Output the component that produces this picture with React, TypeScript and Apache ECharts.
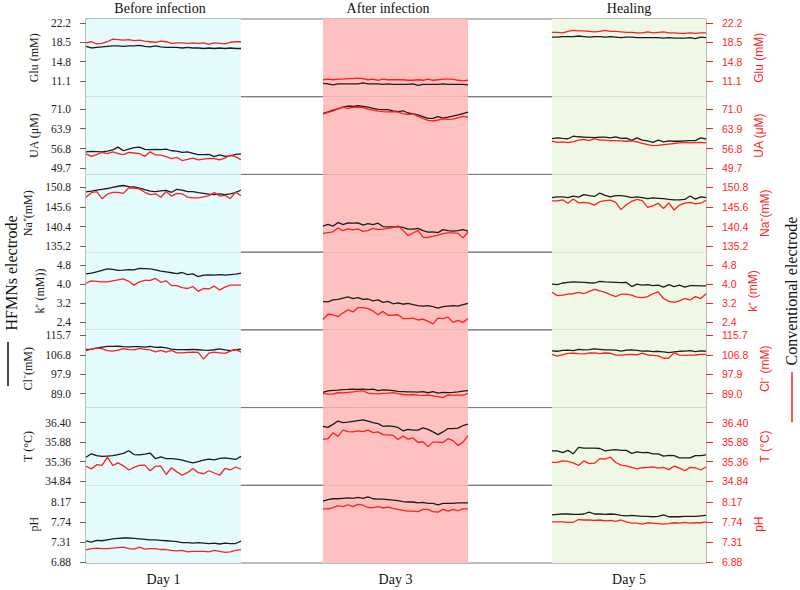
import React, { useEffect, useRef } from "react";
import * as echarts from "echarts";

// ---------- labels ----------
const PHASES = ["Before infection", "After infection", "Healing"];
const DAYS = ["Day 1", "Day 3", "Day 5"];
const NAMES_LEFT = ["Glu (mM)", "UA (μM)", "Na⁺(mM)", "k⁺ (mM))", "Cl⁻(mM)", "T (°C)", "pH"];
const NAMES_RIGHT = ["Glu (mM)", "UA (μM)", "Na⁺(mM)", "k⁺ (mM)", "Cl⁻ (mM)", "T (°C)", "pH"];

// ---------- tick labels ----------
const GLU_TICKS = [11.1, 14.8, 18.5, 22.2];
const UA_TICKS = [49.7, 56.8, 63.9, 71.0];
const NA_TICKS = [135.2, 140.4, 145.6, 150.8];
const K_TICKS = [2.4, 3.2, 4.0, 4.8];
const CL_TICKS = [89.0, 97.9, 106.8, 115.7];
const T_TICKS = [34.84, 35.36, 35.88, 36.40];
const PH_TICKS = [6.88, 7.31, 7.74, 8.17];
const DECIMALS = [1, 1, 1, 1, 1, 2, 2];

// axis extents (min, max) per panel
const EXT_MIN = [8.04, 47.53, 133.61, 2.087, 82.61, 34.734, 6.858];
const EXT_MAX = [22.97, 75.33, 154.24, 5.343, 118.21, 36.797, 8.542];

// ---------- series values: [Day 1, Day 3, Day 5] ----------
const GLU_HFMN = [
  [17.7,17.4,17.5,17.6,17.7,17.8,17.8,17.7,17.8,17.8,17.9,17.7,17.6,17.8,17.6,17.5,17.5,17.5,17.4,17.5,17.4,17.4,17.3,17.4,17.3,17.4,17.3,17.4,17.3,17.3],
  [10.6,10.5,10.3,10.5,10.5,10.5,10.5,10.5,10.7,10.5,10.5,10.5,10.4,10.5,10.4,10.4,10.4,10.4,10.5,10.2,10.4,10.4,10.4,10.4,10.5,10.4,10.4,10.4,10.4,10.3],
  [19.5,19.5,19.6,19.6,19.6,19.7,19.6,19.5,19.6,19.6,19.5,19.6,19.5,19.4,19.5,19.5,19.4,19.4,19.4,19.4,19.4,19.3,19.4,19.3,19.3,19.3,19.4,19.2,19.5,19.4],
];
const GLU_CONV = [
  [18.4,18.6,18.2,18.3,18.6,19.1,19.0,18.9,19.0,18.8,18.9,18.7,18.6,18.5,18.7,18.6,18.3,18.4,18.4,18.3,18.4,18.3,18.4,18.1,18.4,18.3,18.2,18.5,18.6,18.6],
  [11.3,11.4,11.3,11.4,11.4,11.5,11.5,11.6,11.5,11.3,11.4,11.2,11.4,11.3,11.3,11.3,11.3,11.2,11.2,11.3,11.2,11.4,11.2,11.3,11.4,11.4,11.4,11.2,11.1,11.2],
  [20.4,20.4,20.3,20.6,20.8,20.7,20.7,20.6,20.5,20.6,20.8,20.6,20.6,20.5,20.4,20.4,20.3,20.3,20.5,20.3,20.4,20.5,20.3,20.3,20.2,20.2,20.3,20.2,20.3,20.3],
];
const UA_HFMN = [
  [55.6,55.8,55.7,55.6,55.9,56.3,57.3,56.0,56.6,57.1,57.3,56.5,56.4,56.5,56.4,56.6,56.0,55.9,55.4,55.6,55.1,54.6,54.6,54.7,53.9,54.5,54.0,54.2,54.7,54.9],
  [69.4,69.9,70.5,71.0,71.6,72.0,71.9,72.1,71.9,71.6,71.2,70.8,70.7,70.7,70.3,70.0,70.3,69.5,69.2,68.8,68.2,67.6,67.6,68.2,67.7,68.0,68.4,68.8,69.3,69.8],
  [60.3,60.6,60.4,60.3,61.2,61.0,60.9,60.8,60.7,60.9,60.9,60.6,61.0,60.4,60.5,59.7,60.6,59.8,59.5,59.0,59.8,59.2,59.5,59.4,59.4,59.5,59.6,59.6,60.6,60.2],
];
const UA_CONV = [
  [54.9,54.0,54.6,55.4,55.0,55.6,55.0,54.6,55.4,55.2,55.0,54.0,55.6,54.5,54.4,53.9,53.2,53.6,52.5,52.9,53.4,52.7,53.0,53.3,53.2,52.7,53.4,54.4,53.8,52.8],
  [69.1,69.7,70.3,71.0,71.6,71.2,71.5,71.6,71.4,70.9,70.5,70.2,70.0,69.9,70.0,69.8,69.3,68.9,69.2,68.3,67.6,66.9,66.7,67.0,67.4,67.2,67.3,67.8,68.3,68.0],
  [59.4,59.0,59.2,58.9,59.3,59.8,60.1,59.6,60.3,59.8,59.8,59.6,59.6,59.5,59.4,59.5,59.2,58.6,58.2,57.8,57.9,58.2,58.4,58.6,58.8,59.0,58.8,58.9,59.0,58.8],
];
const NA_HFMN = [
  [149.6,149.8,150.1,150.3,150.5,150.8,151.1,151.3,151.0,150.9,150.6,150.2,149.8,149.7,149.9,150.0,149.5,150.3,150.1,149.7,149.7,149.4,149.2,149.0,148.9,149.1,148.9,149.1,149.4,150.1],
  [140.5,141.0,140.5,141.5,140.9,141.4,141.3,141.4,140.8,141.2,140.9,141.3,140.4,140.3,140.3,140.4,140.2,139.7,139.7,139.9,139.3,138.9,139.0,138.8,139.6,139.3,139.2,139.3,139.6,139.2],
  [148.1,148.3,148.3,148.1,148.5,148.2,148.9,148.6,148.4,149.3,148.7,148.3,148.6,148.6,148.4,148.1,148.3,148.1,147.8,148.0,147.9,147.8,147.6,147.5,147.5,147.6,148.5,147.7,148.3,148.1],
];
const NA_CONV = [
  [148.2,149.4,149.7,147.8,149.0,149.5,149.5,149.2,150.7,150.6,150.4,149.5,148.9,149.1,148.2,149.7,148.5,149.2,149.1,148.2,148.0,148.0,148.3,148.6,149.4,148.5,148.7,147.8,149.6,148.6],
  [138.6,138.8,139.0,140.0,139.3,139.8,139.5,139.8,139.1,139.3,139.9,139.6,139.7,139.9,140.1,140.6,139.4,138.0,138.7,139.4,137.6,137.5,137.8,138.1,138.5,138.7,138.7,138.6,137.4,138.9],
  [147.2,147.2,147.5,146.6,147.7,146.7,146.8,146.6,146.1,147.0,147.3,147.4,146.8,144.9,146.2,147.1,147.6,147.3,145.5,145.9,146.6,145.2,146.7,144.8,146.1,146.6,146.8,146.4,146.6,147.4],
];
const K_HFMN = [
  [4.43,4.46,4.52,4.58,4.64,4.62,4.58,4.59,4.61,4.60,4.66,4.65,4.64,4.60,4.55,4.52,4.48,4.44,4.49,4.40,4.43,4.32,4.38,4.39,4.38,4.40,4.38,4.40,4.42,4.46],
  [3.27,3.26,3.34,3.36,3.42,3.47,3.40,3.44,3.36,3.38,3.30,3.34,3.24,3.28,3.18,3.22,3.16,3.20,3.14,3.10,3.08,3.10,3.06,3.00,3.06,3.08,3.10,3.08,3.14,3.20],
  [4.00,3.98,4.05,4.08,4.10,4.09,4.08,4.06,4.05,4.12,4.10,4.09,4.08,4.07,4.08,3.90,4.00,3.96,3.98,3.94,3.96,3.88,3.98,3.90,3.96,3.88,3.94,3.94,3.93,3.93],
];
const K_CONV = [
  [4.04,4.14,4.12,4.10,4.10,4.14,4.18,4.22,4.12,3.96,4.10,4.16,4.16,4.24,4.08,4.14,3.94,3.94,3.86,3.82,3.90,3.70,3.82,3.80,3.92,3.76,3.88,3.96,3.96,3.96],
  [2.52,2.74,2.72,2.64,2.80,2.92,2.84,3.02,3.02,2.98,2.88,2.72,2.86,2.70,2.70,2.72,2.56,2.56,2.58,2.50,2.54,2.44,2.34,2.58,2.56,2.62,2.40,2.48,2.40,2.56],
  [3.66,3.52,3.54,3.58,3.60,3.66,3.60,3.70,3.78,3.72,3.66,3.56,3.48,3.58,3.58,3.54,3.46,3.44,3.48,3.60,3.68,3.40,3.28,3.24,3.30,3.40,3.34,3.48,3.40,3.60],
];
const CL_HFMN = [
  [109.2,109.4,109.8,110.3,110.6,110.6,110.7,110.5,110.4,110.5,110.5,110.3,110.6,110.2,110.3,110.0,109.4,109.2,109.2,109.1,109.3,109.1,108.9,108.8,109.1,109.5,109.0,108.7,109.1,109.4],
  [89.6,90.3,90.5,90.6,90.8,90.9,91.1,90.9,91.0,90.8,91.1,90.4,90.7,90.6,90.4,90.0,89.9,89.8,89.8,89.7,89.9,89.4,89.9,89.2,89.6,89.5,89.6,89.8,90.1,90.4],
  [108.6,108.4,108.8,108.9,108.7,109.3,109.0,109.2,109.5,109.3,109.0,109.0,108.9,108.5,108.9,109.0,108.8,108.5,108.6,108.2,108.4,108.1,107.8,108.1,108.4,108.5,108.7,108.2,108.6,108.5],
];
const CL_CONV = [
  [108.7,109.4,110.0,109.6,108.7,108.5,108.9,109.6,109.2,109.0,109.7,109.3,109.0,108.1,108.8,108.0,108.8,107.7,107.7,107.9,108.0,107.9,104.8,107.6,108.0,107.7,107.4,108.5,109.3,108.0],
  [89.1,88.8,88.8,89.4,89.3,89.6,89.8,90.1,90.3,89.2,89.0,88.9,89.1,89.2,89.5,89.0,88.6,88.4,88.6,88.3,88.2,88.3,88.0,87.6,87.2,88.4,88.3,88.3,88.3,89.0],
  [107.0,106.2,106.9,107.4,107.5,107.3,107.2,107.6,107.7,107.3,107.6,107.5,106.6,106.6,106.9,107.0,106.8,107.5,106.7,106.5,106.3,105.2,105.3,107.8,106.6,106.5,106.6,106.7,107.0,107.0],
];
const T_HFMN = [
  [35.48,35.57,35.52,35.50,35.51,35.52,35.55,35.58,35.65,35.55,35.54,35.56,35.59,35.44,35.49,35.44,35.44,35.43,35.40,35.36,35.33,35.36,35.40,35.43,35.41,35.45,35.46,35.44,35.42,35.50],
  [36.30,36.27,36.35,36.44,36.40,36.41,36.43,36.45,36.47,36.44,36.40,36.37,36.30,36.31,36.30,36.27,36.18,36.22,36.20,36.20,36.26,36.22,36.15,36.08,36.15,36.24,36.24,36.25,36.32,36.36],
  [35.65,35.65,35.60,35.66,35.57,35.74,35.72,35.72,35.72,35.71,35.65,35.67,35.68,35.66,35.66,35.58,35.62,35.60,35.61,35.57,35.57,35.51,35.53,35.52,35.46,35.46,35.46,35.52,35.52,35.54],
];
const T_CONV = [
  [35.24,35.17,35.28,35.26,35.48,35.26,35.33,35.25,35.14,35.21,35.26,35.27,35.12,35.24,35.24,35.02,35.20,35.09,35.00,35.07,35.18,35.07,35.04,35.12,35.06,35.00,35.18,35.14,35.22,35.16],
  [35.95,35.97,36.13,36.03,36.20,36.16,36.15,36.18,36.16,36.20,36.13,36.15,36.08,36.07,36.06,35.95,36.04,35.96,35.99,35.87,35.89,35.76,35.88,35.88,35.87,35.97,35.92,35.79,35.88,36.05],
  [35.34,35.34,35.38,35.37,35.33,35.26,35.38,35.31,35.32,35.44,35.43,35.48,35.34,35.27,35.25,35.21,35.17,35.20,35.21,35.22,35.19,35.21,35.15,35.24,35.19,35.12,35.21,35.20,35.14,35.22],
];
const PH_HFMN = [
  [7.34,7.31,7.35,7.34,7.36,7.38,7.39,7.40,7.40,7.39,7.38,7.37,7.36,7.36,7.35,7.34,7.33,7.32,7.30,7.30,7.29,7.30,7.29,7.28,7.29,7.27,7.29,7.28,7.28,7.33],
  [8.20,8.23,8.25,8.25,8.26,8.27,8.26,8.28,8.26,8.29,8.25,8.24,8.24,8.23,8.22,8.21,8.19,8.18,8.18,8.16,8.17,8.15,8.15,8.12,8.15,8.15,8.15,8.16,8.16,8.16],
  [7.90,7.91,7.92,7.92,7.91,7.91,7.92,7.96,7.92,7.92,7.91,7.92,7.91,7.89,7.88,7.89,7.88,7.87,7.87,7.86,7.87,7.90,7.86,7.86,7.86,7.87,7.87,7.87,7.88,7.89],
];
const PH_CONV = [
  [7.14,7.17,7.18,7.17,7.17,7.18,7.19,7.20,7.17,7.16,7.20,7.16,7.17,7.17,7.15,7.15,7.13,7.12,7.13,7.10,7.11,7.11,7.11,7.10,7.13,7.11,7.09,7.10,7.13,7.15],
  [8.03,8.03,8.06,8.10,8.08,8.12,8.08,8.13,8.11,8.06,8.06,8.08,8.05,8.07,8.04,8.02,8.00,7.98,7.98,7.97,8.02,8.02,7.97,7.96,8.02,7.98,8.02,7.99,8.03,8.03],
  [7.75,7.75,7.75,7.74,7.74,7.80,7.79,7.79,7.78,7.79,7.77,7.78,7.76,7.79,7.75,7.72,7.72,7.70,7.73,7.72,7.71,7.70,7.71,7.73,7.72,7.74,7.72,7.73,7.73,7.75],
];

const PANEL_TICKS = [GLU_TICKS, UA_TICKS, NA_TICKS, K_TICKS, CL_TICKS, T_TICKS, PH_TICKS];
const PANEL_HFMN = [GLU_HFMN, UA_HFMN, NA_HFMN, K_HFMN, CL_HFMN, T_HFMN, PH_HFMN];
const PANEL_CONV = [GLU_CONV, UA_CONV, NA_CONV, K_CONV, CL_CONV, T_CONV, PH_CONV];

// ---------- layout / style ----------
const PLOT_LEFT = 86;
const PLOT_WIDTH = 620;
const PLOT_TOP = 19;
const PLOT_BOTTOM = 563;
const X_MAX = 620;
const DAY_SPANS = [[0, 155], [237, 382], [466, 620]];
const PHASE_POS = [74, 302, 543];
const BAND_COLORS = ["#e4fbfd", "#ffc0c0", "#eff8e5"];
const BLACK = "#1c1c1c";
const RED = "#ff1e1e";
const SERIF = "'Liberation Serif', 'Times New Roman', serif";
const SANS = "'Liberation Sans', Arial, sans-serif";

function toPoints(values: number[], span: number[]) {
  const n = values.length;
  const step = (span[1] - span[0]) / (n - 1);
  return values.map((v, i) => [span[0] + i * step, v]);
}

function buildOption() {
  const nPanels = PANEL_TICKS.length;
  const panelH = (PLOT_BOTTOM - PLOT_TOP) / nPanels;
  const grids: any[] = [];
  const xAxes: any[] = [];
  const yAxes: any[] = [];
  const series: any[] = [];

  for (let g = 0; g < nPanels; g++) {
    grids.push({
      left: PLOT_LEFT,
      width: PLOT_WIDTH,
      top: PLOT_TOP + g * panelH,
      height: panelH,
      show: true,
      borderColor: "#7a7a7a",
      borderWidth: 1,
      backgroundColor: "transparent",
    });

    const isTop = g === 0;
    const isBottom = g === nPanels - 1;
    xAxes.push({
      gridIndex: g,
      type: "value",
      min: 0,
      max: X_MAX,
      position: isTop ? "top" : "bottom",
      show: isTop || isBottom,
      axisLine: { show: false },
      axisTick: { show: false },
      splitLine: { show: false },
      axisLabel: {
        show: isTop || isBottom,
        customValues: isTop
          ? PHASE_POS
          : DAY_SPANS.map((s) => (s[0] + s[1]) / 2),
        formatter: (v: number) => {
          if (isTop) {
            const i = PHASE_POS.findIndex((p) => Math.abs(p - v) < 1);
            return i >= 0 ? PHASES[i] : "";
          }
          const i = DAY_SPANS.findIndex((s) => Math.abs((s[0] + s[1]) / 2 - v) < 1);
          return i >= 0 ? DAYS[i] : "";
        },
        color: "#111",
        fontFamily: SERIF,
        fontSize: 14,
        margin: isTop ? 4 : 9,
      },
    });

    const ticks = PANEL_TICKS[g];
    const dec = DECIMALS[g];
    yAxes.push({
      gridIndex: g,
      type: "value",
      position: "left",
      min: EXT_MIN[g],
      max: EXT_MAX[g],
      splitLine: { show: false },
      axisLine: { show: true, lineStyle: { color: "#4a4a4a", width: 1 } },
      axisTick: { show: true, customValues: ticks, length: 6, lineStyle: { color: "#666" } },
      axisLabel: {
        customValues: ticks,
        formatter: (v: number) => v.toFixed(dec),
        color: "#222",
        fontFamily: SERIF,
        fontSize: 11.5,
        lineHeight: 10,
        margin: 15,
      },
      name: NAMES_LEFT[g],
      nameLocation: "middle",
      nameGap: 36,
      nameTextStyle: { color: "#222", fontFamily: SERIF, fontSize: 12 },
    });
    yAxes.push({
      gridIndex: g,
      type: "value",
      position: "right",
      min: EXT_MIN[g],
      max: EXT_MAX[g],
      splitLine: { show: false },
      axisLine: { show: false },
      axisTick: { show: true, customValues: ticks, length: 7, lineStyle: { color: RED } },
      axisLabel: {
        customValues: ticks,
        formatter: (v: number) => v.toFixed(dec),
        color: RED,
        fontFamily: SANS,
        fontSize: 10.5,
        lineHeight: 10,
        margin: 16,
      },
      name: NAMES_RIGHT[g],
      nameLocation: "middle",
      nameGap: 37,
      nameTextStyle: { color: RED, fontFamily: SANS, fontSize: 12 },
    });

    // background bands
    series.push({
      type: "line",
      xAxisIndex: g,
      yAxisIndex: 2 * g,
      data: [],
      silent: true,
      z: 1,
      markArea: {
        silent: true,
        data: DAY_SPANS.map((s, i) => [
          { xAxis: s[0], itemStyle: { color: BAND_COLORS[i] } },
          { xAxis: s[1] },
        ]),
      },
    });

    for (let d = 0; d < DAY_SPANS.length; d++) {
      series.push({
        type: "line",
        xAxisIndex: g,
        yAxisIndex: 2 * g,
        data: toPoints(PANEL_HFMN[g][d], DAY_SPANS[d]),
        showSymbol: false,
        symbol: "none",
        clip: false,
        z: 3,
        lineStyle: { color: BLACK, width: 1.3 },
      });
      series.push({
        type: "line",
        xAxisIndex: g,
        yAxisIndex: 2 * g,
        data: toPoints(PANEL_CONV[g][d], DAY_SPANS[d]),
        showSymbol: false,
        symbol: "none",
        clip: false,
        z: 3,
        lineStyle: { color: RED, width: 1.3 },
      });
    }
  }

  const graphic = [
    {
      type: "text",
      x: 11,
      y: 273,
      rotation: Math.PI / 2,
      style: {
        text: "HFMNs electrode",
        font: `16px ${SERIF}`,
        fill: "#111",
        align: "center",
        verticalAlign: "middle",
        textAlign: "center",
        textVerticalAlign: "middle",
      },
    },
    {
      type: "line",
      shape: { x1: 8, y1: 342, x2: 8, y2: 386 },
      style: { stroke: "#111", lineWidth: 1.5 },
    },
    {
      type: "text",
      x: 791,
      y: 291,
      rotation: Math.PI / 2,
      style: {
        text: "Conventional electrode",
        font: `16px ${SERIF}`,
        fill: "#111",
        align: "center",
        verticalAlign: "middle",
        textAlign: "center",
        textVerticalAlign: "middle",
      },
    },
    {
      type: "line",
      shape: { x1: 792, y1: 372, x2: 792, y2: 422 },
      style: { stroke: RED, lineWidth: 1.5 },
    },
  ];

  return {
    animation: false,
    backgroundColor: "#ffffff",
    grid: grids,
    xAxis: xAxes,
    yAxis: yAxes,
    series,
    graphic,
  };
}

export default function App() {
  const ref = useRef<HTMLDivElement>(null);
  useEffect(() => {
    if (!ref.current) return;
    const chart = echarts.init(ref.current, undefined, { renderer: "svg" });
    chart.setOption(buildOption() as any);
    return () => chart.dispose();
  }, []);
  return (
    <div
      ref={ref}
      style={{ position: "fixed", left: 0, top: 0, width: 800, height: 590, background: "#fff" }}
    />
  );
}
